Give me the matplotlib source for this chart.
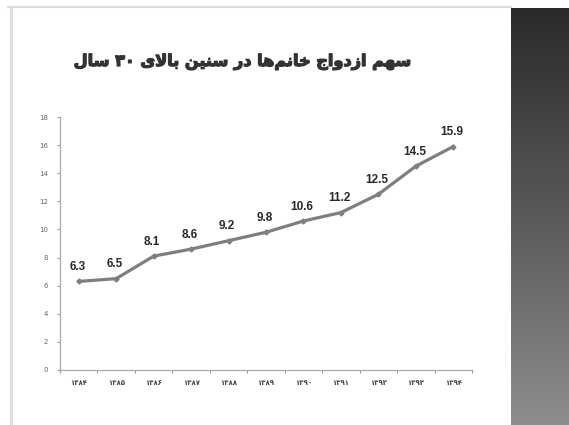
import numpy as np
import matplotlib.pyplot as plt
import matplotlib.patheffects as pe
from matplotlib.lines import Line2D
from matplotlib.colors import LinearSegmentedColormap

# data
years = ['۱۳۸۴', '۱۳۸۵', '۱۳۸۶', '۱۳۸۷', '۱۳۸۸', '۱۳۸۹',
         '۱۳۹۰', '۱۳۹۱', '۱۳۹۲', '۱۳۹۳', '۱۳۹۴']
share = [6.3, 6.5, 8.1, 8.6, 9.2, 9.8, 10.6, 11.2, 12.5, 14.5, 15.9]
title = 'سهم ازدواج خانم\u200cها در سنین بالای ۳۰ سال'

# simple arabic shaping (isolated, final, initial, medial)
FORMS = {
    'ا': ('\uFE8D', '\uFE8E', None, None),
    'ب': ('\uFE8F', '\uFE90', '\uFE91', '\uFE92'),
    'ج': ('\uFE9D', '\uFE9E', '\uFE9F', '\uFEA0'),
    'خ': ('\uFEA5', '\uFEA6', '\uFEA7', '\uFEA8'),
    'د': ('\uFEA9', '\uFEAA', None, None),
    'ر': ('\uFEAD', '\uFEAE', None, None),
    'ز': ('\uFEAF', '\uFEB0', None, None),
    'س': ('\uFEB1', '\uFEB2', '\uFEB3', '\uFEB4'),
    'ل': ('\uFEDD', '\uFEDE', '\uFEDF', '\uFEE0'),
    'م': ('\uFEE1', '\uFEE2', '\uFEE3', '\uFEE4'),
    'ن': ('\uFEE5', '\uFEE6', '\uFEE7', '\uFEE8'),
    'ه': ('\uFEE9', '\uFEEA', '\uFEEB', '\uFEEC'),
    'و': ('\uFEED', '\uFEEE', None, None),
    'ی': ('\uFEEF', '\uFEF0', '\uFEF3', '\uFEF4'),
}


def joins_next(c):
    return c in FORMS and FORMS[c][2] is not None


def shape_word(w):
    out = []
    i = 0
    while i < len(w):
        c = w[i]
        prev = w[i - 1] if i > 0 else None
        p = prev is not None and joins_next(prev)
        if c == 'ل' and i + 1 < len(w) and w[i + 1] == 'ا':
            out.append('\uFEFC' if p else '\uFEFB')
            i += 2
            continue
        if c not in FORMS:
            if c != '\u200c':
                out.append(c)
            i += 1
            continue
        nxt = w[i + 1] if i + 1 < len(w) else None
        n = nxt in FORMS and joins_next(c)
        f = FORMS[c]
        out.append(f[3] if p and n else f[1] if p else f[2] if n else f[0])
        i += 1
    if all(ch not in FORMS and ch != '\u200c' for ch in w):
        return ''.join(out)
    return ''.join(out[::-1])


def rtl(text):
    return ' '.join(shape_word(w) for w in text.split(' ')[::-1])


fig = plt.figure(figsize=(5.69, 4.25), dpi=100)
W, H = 569, 425

# slide frame
bg = fig.add_axes([0, 0, 1, 1])
bg.set_xlim(0, W)
bg.set_ylim(H, 0)
bg.axis('off')
bg.add_line(Line2D([8, 511], [7, 7], color='#dcdcdc', lw=1.5))
bg.add_line(Line2D([11.5, 11.5], [7, H], color='#dcdcdc', lw=2))
panel = LinearSegmentedColormap.from_list('panel', ['#2a2a2a', '#5a5a5a', '#8e8e8e'])
grad = np.linspace(0, 1, 200).reshape(-1, 1)
bg.imshow(grad, cmap=panel, aspect='auto', extent=[511, W, H, 8], zorder=1)

bg.text(243, 62, rtl(title), fontsize=11.6, fontweight='bold', color='#333333',
        ha='center', va='center', family='DejaVu Sans',
        path_effects=[pe.withStroke(linewidth=0.9, foreground='#333333')])

# chart
ax = fig.add_axes([60 / W, 1 - 370 / H, 412 / W, 253 / H])
x = np.arange(len(years))
ax.plot(x, share, color='#7f7f7f', lw=2.3, marker='D', markersize=2.5,
        markerfacecolor='#7f7f7f', markeredgecolor='#7f7f7f')
for xi, v in zip(x, share):
    ax.annotate(f'{v:.1f}', (xi, v), xytext=(-1, 6), textcoords='offset points',
                ha='center', va='bottom', fontsize=8.5, fontweight='bold',
                color='#2a2a2a', family='Liberation Sans')

ax.set_xlim(-0.5, len(years) - 0.5)
ax.set_ylim(0, 18)
ax.set_yticks(range(0, 19, 2))
ax.set_xticks(x)
ax.set_xticklabels(years, fontsize=5, fontweight='bold', color='#444444',
                   family='DejaVu Sans')
ax.set_xticks(np.arange(-0.5, len(years), 1), minor=True)
ax.tick_params(axis='x', which='major', length=0, pad=7)
ax.tick_params(axis='x', which='minor', length=2.5, color='#999999', width=0.8)
ax.tick_params(axis='y', length=2.5, color='#999999', width=0.8, labelsize=5,
               labelcolor='#666666', pad=6)
for s in ['top', 'right']:
    ax.spines[s].set_visible(False)
for s in ['left', 'bottom']:
    ax.spines[s].set_color('#aaaaaa')
    ax.spines[s].set_linewidth(0.9)

fig.savefig('out.png', dpi=100)
